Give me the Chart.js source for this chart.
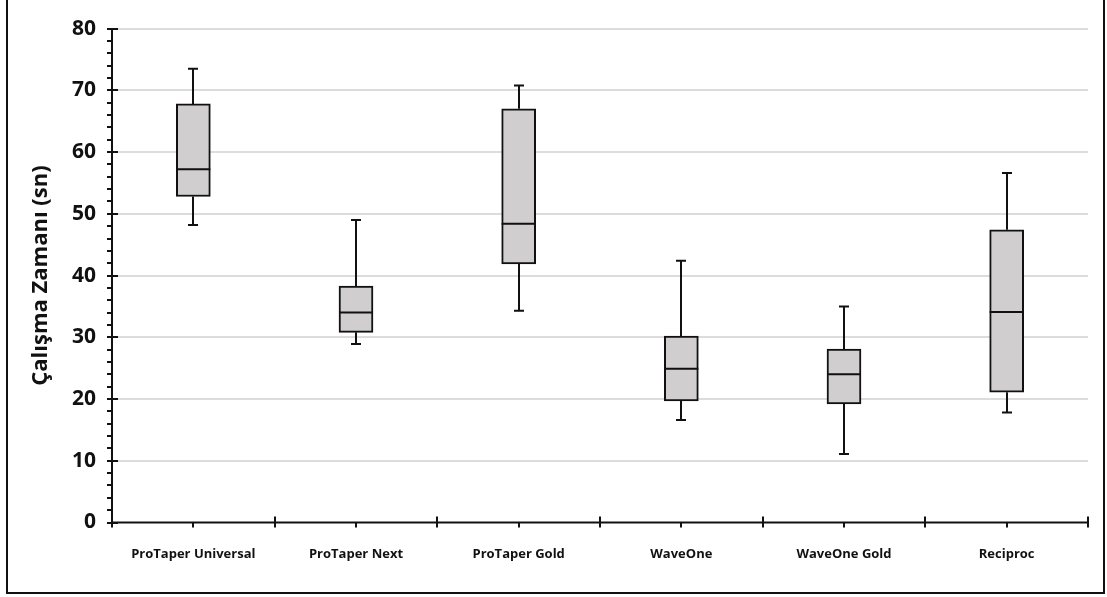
<!DOCTYPE html>
<html><head><meta charset="utf-8">
<script src="https://cdn.jsdelivr.net/npm/chart.js@4.4.1/dist/chart.umd.min.js"></script>
<style>html,body{margin:0;padding:0;background:#fff;}#wrap{width:1107px;height:597px;position:relative;}</style>
</head><body><div id="wrap"><canvas id="c" width="1107" height="597"></canvas></div>
<script>
const categories = ['ProTaper Universal', 'ProTaper Next', 'ProTaper Gold', 'WaveOne', 'WaveOne Gold', 'Reciproc'];
const minValues    = [48.2, 28.9, 34.3, 16.6, 11.1, 17.8];
const q1Values     = [52.8, 30.8, 41.9, 19.7, 19.2, 21.1];
const medianValues = [57.2, 34.0, 48.4, 24.9, 24.0, 34.1];
const q3Values     = [67.8, 38.3, 67.0, 30.2, 28.1, 47.4];
const maxValues    = [73.5, 49.0, 70.8, 42.4, 35.0, 56.6];
const yMin = 0, yMax = 80, yMajorStep = 10, yMinorStep = 2;
const yTitle = 'Çalışma Zamanı (sn)';

const boxPlugin = {
  id: 'boxParts',
  afterDatasetsDraw(chart) {
    const {ctx, scales: {x, y}} = chart;
    const meta = chart.getDatasetMeta(0);
    ctx.save();
    ctx.strokeStyle = '#111';
    ctx.lineWidth = 2;
    ctx.lineCap = 'butt';
    categories.forEach((c, i) => {
      const cx = Math.round(x.getPixelForValue(i));
      const bar = meta.data[i];
      const half = bar.width / 2;
      const cap = 5;
      ctx.beginPath();
      ctx.moveTo(cx, y.getPixelForValue(q3Values[i]));
      ctx.lineTo(cx, y.getPixelForValue(maxValues[i]));
      ctx.moveTo(cx - cap, y.getPixelForValue(maxValues[i]));
      ctx.lineTo(cx + cap, y.getPixelForValue(maxValues[i]));
      ctx.moveTo(cx, y.getPixelForValue(q1Values[i]));
      ctx.lineTo(cx, y.getPixelForValue(minValues[i]));
      ctx.moveTo(cx - cap, y.getPixelForValue(minValues[i]));
      ctx.lineTo(cx + cap, y.getPixelForValue(minValues[i]));
      ctx.moveTo(bar.x - half, y.getPixelForValue(medianValues[i]));
      ctx.lineTo(bar.x + half, y.getPixelForValue(medianValues[i]));
      ctx.stroke();
    });
    ctx.restore();
  },
  afterDraw(chart) {
    const {ctx, chartArea: a, scales: {x, y}} = chart;
    ctx.save();
    ctx.strokeStyle = '#111';
    ctx.lineWidth = 2;
    ctx.beginPath();
    ctx.moveTo(a.left, y.getPixelForValue(yMax));
    ctx.lineTo(a.left, a.bottom + 5);
    ctx.moveTo(a.left - 1, a.bottom);
    ctx.lineTo(a.right, a.bottom);
    for (let v = yMin; v <= yMax; v += yMinorStep) {
      const py = Math.round(y.getPixelForValue(v));
      if (v % yMajorStep === 0) {
        ctx.moveTo(a.left - 5, py); ctx.lineTo(a.left + 6, py);
      } else {
        ctx.moveTo(a.left - 5, py); ctx.lineTo(a.left, py);
      }
    }
    const centers = categories.map((c, i) => x.getPixelForValue(i));
    const bounds = [a.left];
    for (let i = 0; i < centers.length - 1; i++) bounds.push((centers[i] + centers[i + 1]) / 2);
    bounds.push(a.right);
    bounds.forEach((bx, i) => {
      if (i === 0) return;
      const px = Math.round(bx);
      ctx.moveTo(px, a.bottom - 6); ctx.lineTo(px, a.bottom + 5);
    });
    centers.forEach(cx => {
      const px = Math.round(cx);
      ctx.moveTo(px, a.bottom); ctx.lineTo(px, a.bottom + 5);
    });
    ctx.stroke();
    ctx.beginPath();
    ctx.moveTo(7, -2); ctx.lineTo(7, 593); ctx.lineTo(1104, 593); ctx.lineTo(1104, -2);
    ctx.stroke();
    ctx.restore();
  }
};

new Chart(document.getElementById('c'), {
  type: 'bar',
  data: {
    labels: categories,
    datasets: [{
      data: q1Values.map((q, i) => [q, q3Values[i]]),
      backgroundColor: '#d0cece',
      borderColor: '#111',
      borderWidth: 2,
      borderSkipped: false,
      barThickness: 34
    }]
  },
  options: {
    responsive: false,
    animation: false,
    devicePixelRatio: 1,
    layout: {padding: {left: 0, top: 28, right: 19, bottom: 0}},
    plugins: {legend: {display: false}, tooltip: {enabled: false}},
    scales: {
      x: {
        afterFit(s) { s.height = 74.5; },
        grid: {display: false},
        border: {display: false},
        ticks: {color: '#111', padding: 16, font: {family: 'Open Sans', weight: 'bold', size: 13}}
      },
      y: {
        min: yMin, max: yMax,
        afterFit(s) { s.width = 112; },
        border: {display: false},
        grid: {
          drawTicks: false,
          lineWidth: 2,
          color: c => (c.tick && c.tick.value === 0) ? 'rgba(0,0,0,0)' : '#dcdcdc'
        },
        ticks: {stepSize: yMajorStep, color: '#111', padding: 16, font: {family: 'Open Sans', weight: 'bold', size: 21}},
        title: {
          display: true, text: yTitle, color: '#111',
          padding: {top: 28, bottom: 0},
          font: {family: 'Open Sans', weight: 'bold', size: 22}
        }
      }
    }
  },
  plugins: [boxPlugin]
});
</script></body></html>
